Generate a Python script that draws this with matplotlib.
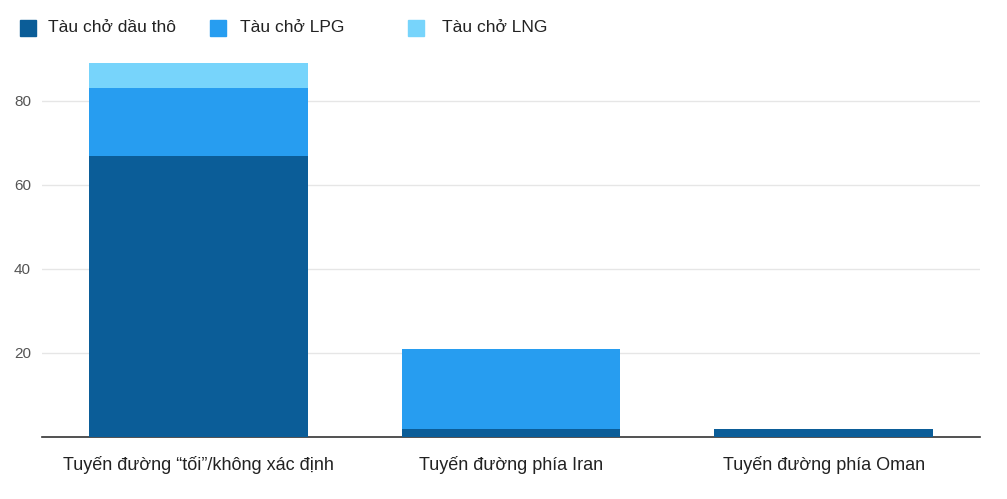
import matplotlib
matplotlib.use("Agg")
import matplotlib.pyplot as plt
from matplotlib.patches import Rectangle

categories = ["Tuyến đường “tối”/không xác định", "Tuyến đường phía Iran", "Tuyến đường phía Oman"]
series_names = ["Tàu chở dầu thô", "Tàu chở LPG", "Tàu chở LNG"]
crude = [67, 2, 2]
lpg = [16, 19, 0]
lng = [6, 0, 0]
colors = ["#0b5d98", "#279df0", "#77d4fb"]
yticks = [20, 40, 60, 80]

plt.rcParams['font.family'] = ['Arial', 'Liberation Sans', 'DejaVu Sans']
fig = plt.figure(figsize=(10.07, 4.99), dpi=100)
ax = fig.add_axes([42/1007, 1-437/499, 938/1007, 378/499])
x = range(len(categories))
bottom = [0]*3
for vals, c in zip([crude, lpg, lng], colors):
    ax.bar(x, vals, 0.7, bottom=bottom, color=c, zorder=3)
    bottom = [b+v for b, v in zip(bottom, vals)]
ax.set_xlim(-0.5, 2.5)
ax.set_ylim(0, 90)
ax.set_yticks(yticks)
ax.yaxis.grid(True, color="#e6e6e6", linewidth=1, zorder=0)
for s in ["top", "right", "left"]:
    ax.spines[s].set_visible(False)
ax.spines["bottom"].set_color("#333333")
ax.spines["bottom"].set_linewidth(1.2)
ax.tick_params(axis="y", length=0, labelsize=11, labelcolor="#555555", pad=8)
ax.tick_params(axis="x", length=0, labelsize=13, labelcolor="#222222", pad=14)
ax.set_xticks(list(x))
ax.set_xticklabels(categories)

lx = [20, 210, 408]
tx = [48, 240, 442]
for px, t, name, c in zip(lx, tx, series_names, colors):
    fig.patches.append(Rectangle((px/1007, 1-36/499), 16/1007, 16/499, color=c, transform=fig.transFigure))
    fig.text(t/1007, 1-27/499, name, fontsize=12.5, va="center", color="#222222")
fig.savefig("out.png", dpi=100)
